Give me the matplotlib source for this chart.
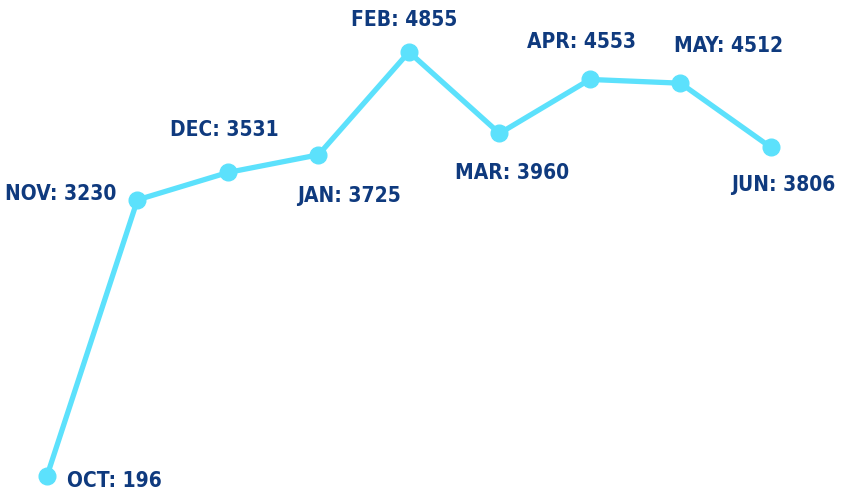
import matplotlib
matplotlib.use("Agg")
import matplotlib.pyplot as plt

months = ["OCT", "NOV", "DEC", "JAN", "FEB", "MAR", "APR", "MAY", "JUN"]
values = [196, 3230, 3531, 3725, 4855, 3960, 4553, 4512, 3806]
# label placement: (dx px, dy px, ha)
offsets = [(20, -5, "left"), (-21, 6, "right"), (-4, 42, "center"), (30, -41, "center"),
           (-5, 32, "center"), (13, -40, "center"), (-8, 37, "center"), (48, 37, "center"),
           (12, -38, "center")]

line_color = "#5CE1FC"
text_color = "#0F3A7E"

fig = plt.figure(figsize=(8.47, 4.93), dpi=100)
ax = fig.add_axes([0, 0, 1, 1])
x = list(range(len(months)))
ax.plot(x, values, color=line_color, lw=3.8, marker="o", markersize=12, solid_joinstyle="round")
ax.set_xlim(-0.519, 8.84)
ax.set_ylim(9, 5426)
ax.axis("off")

for i, (m, v) in enumerate(zip(months, values)):
    dx, dy, ha = offsets[i]
    ax.annotate(f"{m}: {v}", (i, v), xytext=(dx * 0.72, dy * 0.72), textcoords="offset points",
                ha=ha, va="center", fontsize=15, fontweight="bold", color=text_color,
                family="DejaVu Sans", fontstretch="condensed")

fig.savefig("out.png", dpi=100)
